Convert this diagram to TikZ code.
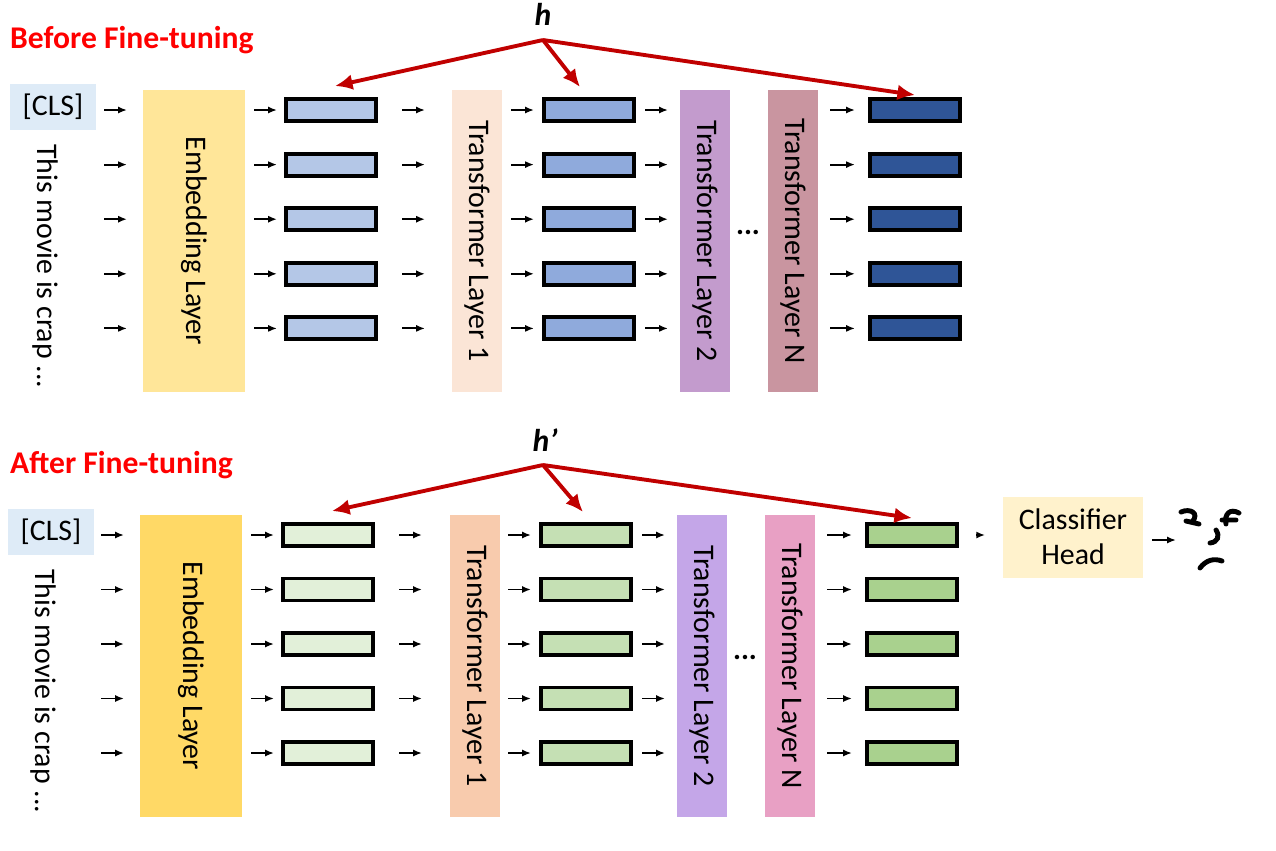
\documentclass[tikz,border=0pt]{standalone}
\usepackage{fontspec}
\setmainfont{Carlito}
\usetikzlibrary{positioning,arrows.meta}
\definecolor{clsblue}{HTML}{DEEBF7}
\definecolor{hred}{HTML}{C00000}
\tikzset{%
	layer/.style  = {draw=none, rectangle, minimum width=1cm, minimum height=6.06cm, font=\fontsize{17}{20}\selectfont},
	vec/.style    = {draw, line width=2.2pt, rectangle, minimum width=1.8cm, minimum height=0.44cm},
	tok/.style    = {-{Latex[length=5pt,width=4pt]}, line width=1.1pt},
	harrow/.style = {-{Latex[length=10pt,width=9pt]}, hred, line width=2.2pt},
	title/.style  = {text=red, font=\bfseries\fontsize{18}{21}\selectfont, anchor=west},
}
\begin{document}
\begin{tikzpicture}[x=0.02cm,y=-0.02cm]
		\useasboundingbox (0,0) rectangle (1276,850);
		
		% before fine-tuning
		\node[title] (t1) at (4,40) {Before Fine-tuning};
		\node[font=\bfseries\itshape\fontsize{18}{21}\selectfont] (h1) at (543,14) {h};
		\node[fill=clsblue, minimum width=1.74cm, minimum height=0.92cm, font=\fontsize{17}{20}\selectfont] (cls1) at (53,107) {[CLS]};
		\node[rotate=-90, anchor=west, font=\fontsize{17}{20}\selectfont] (s1) at (45,138) {This movie is crap ...};
		\node[layer, minimum width=2.04cm, fill={rgb,255:red,255;green,230;blue,153}] (e1) at (194,241) {};
		\node[rotate=-90, font=\fontsize{17}{20}\selectfont] at (e1) {Embedding Layer};
		\node[layer, fill={rgb,255:red,251;green,229;blue,214}] (l11) at (477,241) {};
		\node[rotate=-90, font=\fontsize{17}{20}\selectfont] at (l11) {Transformer Layer 1};
		\node[layer, fill={rgb,255:red,195;green,155;blue,205}] (l21) at (705,241) {};
		\node[rotate=-90, font=\fontsize{17}{20}\selectfont] at (l21) {Transformer Layer 2};
		\node[layer, fill={rgb,255:red,201;green,149;blue,160}] (ln1) at (793,241) {};
		\node[rotate=-90, font=\fontsize{17}{20}\selectfont] at (ln1) {Transformer Layer N};
		\node[font=\bfseries\fontsize{17}{20}\selectfont] (d1) at (748,232) {...};
		\foreach \i in {0,...,4} {
			\pgfmathsetmacro{\yy}{110+54.6*\i}
			\node[vec, fill={rgb,255:red,180;green,199;blue,231}] (a1\i) at (331,\yy) {};
			\node[vec, fill={rgb,255:red,143;green,170;blue,220}] (b1\i) at (589,\yy) {};
			\node[vec, fill={rgb,255:red,47;green,85;blue,151}] (c1\i) at (915,\yy) {};
			\draw[tok] (104,\yy) -- (127,\yy);
			\draw[tok] (254,\yy) -- (277,\yy);
			\draw[tok] (402,\yy) -- (425,\yy);
			\draw[tok] (511,\yy) -- (534,\yy);
			\draw[tok] (645,\yy) -- (668,\yy);
			\draw[tok] (830,\yy) -- (855,\yy);
		}
		\coordinate (hs1) at (543,40);
		\draw[harrow] (hs1) -- (335,86);
		\draw[harrow] (hs1) -- (580,87);
		\draw[harrow] (hs1) -- (915,95);
		
		% after fine-tuning
		\node[title] (t2) at (4,465) {After Fine-tuning};
		\node[font=\bfseries\itshape\fontsize{18}{21}\selectfont] (h2) at (545,440) {h’};
		\node[fill=clsblue, minimum width=1.74cm, minimum height=0.92cm, font=\fontsize{17}{20}\selectfont] (cls2) at (51,532) {[CLS]};
		\node[rotate=-90, anchor=west, font=\fontsize{17}{20}\selectfont] (s2) at (43,563) {This movie is crap ...};
		\node[layer, minimum width=2.04cm, fill={rgb,255:red,255;green,217;blue,102}] (e2) at (191,666) {};
		\node[rotate=-90, font=\fontsize{17}{20}\selectfont] at (e2) {Embedding Layer};
		\node[layer, fill={rgb,255:red,248;green,203;blue,173}] (l12) at (475,666) {};
		\node[rotate=-90, font=\fontsize{17}{20}\selectfont] at (l12) {Transformer Layer 1};
		\node[layer, fill={rgb,255:red,196;green,166;blue,232}] (l22) at (702,666) {};
		\node[rotate=-90, font=\fontsize{17}{20}\selectfont] at (l22) {Transformer Layer 2};
		\node[layer, fill={rgb,255:red,232;green,160;blue,196}] (ln2) at (790,666) {};
		\node[rotate=-90, font=\fontsize{17}{20}\selectfont] at (ln2) {Transformer Layer N};
		\node[font=\bfseries\fontsize{17}{20}\selectfont] (d2) at (745,657) {...};
		\foreach \i in {0,...,4} {
			\pgfmathsetmacro{\yy}{535+54.5*\i}
			\node[vec, fill={rgb,255:red,226;green,240;blue,217}] (a2\i) at (328,\yy) {};
			\node[vec, fill={rgb,255:red,197;green,224;blue,180}] (b2\i) at (586,\yy) {};
			\node[vec, fill={rgb,255:red,169;green,209;blue,142}] (c2\i) at (912,\yy) {};
			\draw[tok] (101,\yy) -- (124,\yy);
			\draw[tok] (251,\yy) -- (274,\yy);
			\draw[tok] (399,\yy) -- (422,\yy);
			\draw[tok] (508,\yy) -- (531,\yy);
			\draw[tok] (642,\yy) -- (665,\yy);
			\draw[tok] (827,\yy) -- (852,\yy);
		}
		\coordinate (hs2) at (543,465);
		\draw[harrow] (hs2) -- (332,511);
		\draw[harrow] (hs2) -- (583,512);
		\draw[harrow] (hs2) -- (912,518);
		\node[fill={rgb,255:red,255;green,242;blue,204}, minimum width=2.8cm, minimum height=1.62cm, align=center, font=\fontsize{17}{20}\selectfont] (ch) at (1073,537) {Classifier\\Head};
		\draw[tok, shorten <=10pt, shorten >=10pt] (c20) -- (c20 -| ch.west);
		\coordinate (fc) at (1176,540);
		\draw[tok, shorten <=5pt] (ch.east |- fc) -- (fc);
		
		% angry face
		\draw[line width=2.8pt, line cap=round] (1181,512) .. controls (1190,508) and (1200,513) .. (1192,522) (1186,521) -- (1199,524);
		\draw[line width=2.8pt, line cap=round] (1239,513) .. controls (1230,508) and (1224,514) .. (1226,524) (1222,520) -- (1236,520);
		\draw[line width=2.8pt, line cap=round] (1216,530) .. controls (1220,536) and (1218,542) .. (1210,543);
		\draw[line width=2.8pt, line cap=round] (1200,568) .. controls (1206,560) and (1214,558) .. (1222,561);
	\end{tikzpicture}
\end{document}
